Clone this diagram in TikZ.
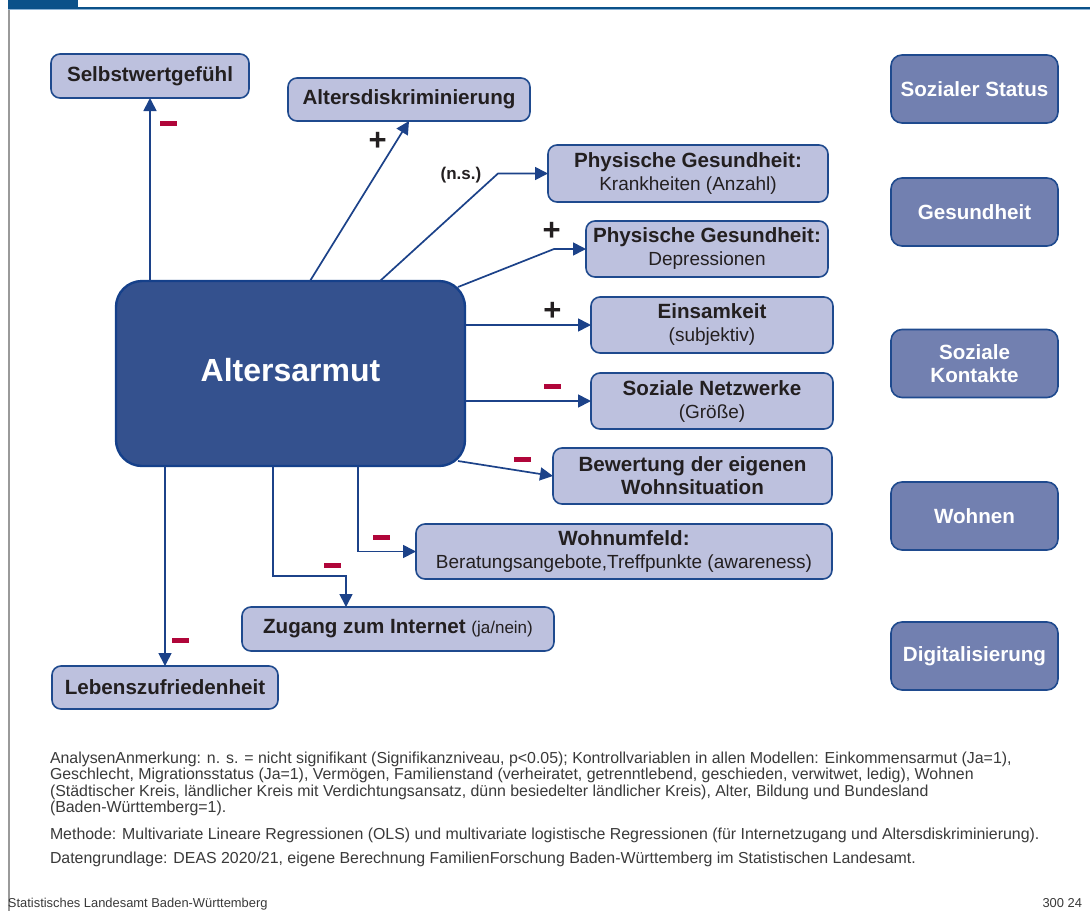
\documentclass[tikz,border=0pt]{standalone}
\usepackage{fontspec}
\setmainfont{Liberation Sans}
\usetikzlibrary{arrows.meta,calc}
\definecolor{boxfill}{HTML}{BDC1DE}
\definecolor{boxdraw}{HTML}{1F4A8E}
\definecolor{mainfill}{HTML}{34518E}
\definecolor{maindraw}{HTML}{15408A}
\definecolor{catfill}{HTML}{7280B0}
\definecolor{arrcol}{HTML}{1C4289}
\definecolor{minred}{HTML}{B0063A}
\definecolor{headblue}{HTML}{0B5189}
\definecolor{headlight}{HTML}{8DB3D5}
\definecolor{textdark}{HTML}{231F20}
\definecolor{notegrey}{HTML}{3A3A3A}
\definecolor{framegrey}{HTML}{9A9A9A}
\newcommand{\boxbold}{\fontsize{20.6}{23}\selectfont\bfseries}
\newcommand{\boxreg}{\fontsize{19}{23}\selectfont\mdseries}
\newcommand{\mainbold}{\fontsize{32}{36}\selectfont\bfseries}
\newcommand{\plusfont}{\fontsize{31}{31}\selectfont\bfseries}
\newcommand{\nsfont}{\fontsize{17}{20}\selectfont\bfseries}
\newcommand{\notefont}{\fontsize{15.9}{16.5}\selectfont}
\newcommand{\footfont}{\fontsize{12.9}{14}\selectfont}
\begin{document}
\begin{tikzpicture}[x=1pt,y=-1pt,
  every node/.style={inner sep=0pt,outer sep=0pt},
  lbox/.style={draw=boxdraw,line width=1.6pt,fill=boxfill,rounded corners=9pt,text=textdark,align=center,font=\boxbold},
  catbox/.style={draw=boxdraw,line width=1.6pt,fill=catfill,rounded corners=11pt,text=white,align=center,font=\boxbold,minimum width=167pt,minimum height=68pt},
  mainbox/.style={draw=maindraw,line width=2.4pt,fill=mainfill,rounded corners=26pt,text=white,font=\mainbold,minimum width=349pt,minimum height=185pt},
  arr/.style={draw=arrcol,line width=1.7pt,-{Triangle[length=13pt,width=13pt]}},
  minus/.style={fill=minred,minimum width=17pt,minimum height=5pt},
  plus/.style={font=\plusfont,text=textdark},
  nslbl/.style={font=\nsfont,text=textdark},
  note/.style={font=\notefont,text=notegrey,anchor=base west},
  foot/.style={font=\footfont,text=notegrey,anchor=base west}
]
\useasboundingbox[fill=white] (0,0) rectangle (1090,911);
% header and frame
\fill[headblue] (8,0) rectangle (78,8);
\fill[headblue] (8,6.5) rectangle (1090,8.5);
\fill[headlight] (8,8.5) rectangle (1090,9.7);
\draw[framegrey,line width=1.2pt] (9,9.7) -- (9,911);

% main box
\node[mainbox] (arm) at (290.5,373.5) {\raisebox{7pt}{Altersarmut}};

% outcome boxes
\node[lbox,minimum width=198pt,minimum height=44pt] (sw) at (150,76) {Selbstwertgefühl};
\node[lbox,minimum width=242pt,minimum height=43pt] (ad) at (409,99.5) {Altersdiskriminierung};
\node[lbox,minimum width=280pt,minimum height=57pt] (pk) at (688,173.5) {Physische Gesundheit:\\{\boxreg Krankheiten (Anzahl)}};
\node[lbox,minimum width=242pt,minimum height=56pt] (pd) at (707,249) {Physische Gesundheit:\\{\boxreg Depressionen}};
\node[lbox,minimum width=242pt,minimum height=56pt] (ei) at (712,325) {Einsamkeit\\{\boxreg (subjektiv)}};
\node[lbox,minimum width=242pt,minimum height=56pt] (sn) at (712,401) {Soziale Netzwerke\\{\boxreg (Größe)}};
\node[lbox,minimum width=279pt,minimum height=56pt] (bw) at (692.5,476) {Bewertung der eigenen\\Wohnsituation};
\node[lbox,minimum width=416pt,minimum height=55pt] (wu) at (624,551.5) {Wohnumfeld:\\{\boxreg Beratungsangebote,Treffpunkte (awareness)}};
\node[lbox,minimum width=312pt,minimum height=44pt] (zi) at (398,629) {Zugang zum Internet {\fontsize{17}{20}\selectfont\mdseries (ja/nein)}};
\node[lbox,minimum width=226pt,minimum height=43pt] (lz) at (165,687.5) {Lebenszufriedenheit};

% category boxes
\node[catbox] (c1) at (974.5,89) {Sozialer Status};
\node[catbox] (c2) at (974.5,212) {Gesundheit};
\node[catbox] (c3) at (974.5,363.5) {Soziale\\Kontakte};
\node[catbox] (c4) at (974.5,516) {Wohnen};
\node[catbox] (c5) at (974.5,656) {Digitalisierung};

% connectors
\draw[arr] (sw.south |- arm.north) -- (sw.south);
\draw[arr] ([xshift=194pt]arm.north west) -- (ad.south);
\draw[arr] ([xshift=264pt]arm.north west) -- ($(pk.west)+(-50,0)$) -- (pk.west);
\draw[arr] ([shift={(-7,6)}]arm.north east) -- ($(pd.west)+(-32,0)$) -- (pd.west);
\draw[arr] (arm.east |- ei.west) -- (ei.west);
\draw[arr] (arm.east |- sn.west) -- (sn.west);
\draw[arr] ([shift={(-7,-5)}]arm.south east) -- (bw.west);
\draw[arr] ([xshift=242pt]arm.south west) |- (wu.west);
\draw[arr] ([xshift=157pt]arm.south west) -- ++(0,110) -| ([xshift=-52pt]zi.north);
\draw[arr] (lz.north |- arm.south) -- (lz.north);

% signs
\node[minus] (m1) at (168.5,123) {};
\node[plus] (p1) at (377.7,141.7) {+};
\node[nslbl] (ns) at (461,175) {(n.s.)};
\node[plus] (p2) at (551.7,231.7) {+};
\node[plus] (p3) at (552.3,311.7) {+};
\node[minus] (m2) at (552.5,386) {};
\node[minus] (m3) at (522.5,459) {};
\node[minus] (m4) at (381.5,537) {};
\node[minus] (m5) at (332.5,565) {};
\node[minus] (m6) at (180.5,640) {};

% notes
\node[note] (n1) at (50,763) {AnalysenAnmerkung: n. s. = nicht signifikant (Signifikanzniveau, p<0.05); Kontrollvariablen in allen Modellen: Einkommensarmut (Ja=1),};
\node[note] (n2) at (50,779.5) {Geschlecht, Migrationsstatus (Ja=1), Vermögen, Familienstand (verheiratet, getrenntlebend, geschieden, verwitwet, ledig), Wohnen};
\node[note] (n3) at (50,796) {(Städtischer Kreis, ländlicher Kreis mit Verdichtungsansatz, dünn besiedelter ländlicher Kreis), Alter, Bildung und Bundesland};
\node[note] (n4) at (50,812.5) {(Baden-Württemberg=1).};
\node[note] (n5) at (50,839) {Methode: Multivariate Lineare Regressionen (OLS) und multivariate logistische Regressionen (für Internetzugang und Altersdiskriminierung).};
\node[note] (n6) at (50,863) {Datengrundlage: DEAS 2020/21, eigene Berechnung FamilienForschung Baden-Württemberg im Statistischen Landesamt.};
\node[foot] (f1) at (8,907) {Statistisches Landesamt Baden-Württemberg};
\node[foot,anchor=base east] (f2) at (1082,907) {300 24};
\end{tikzpicture}
\end{document}
